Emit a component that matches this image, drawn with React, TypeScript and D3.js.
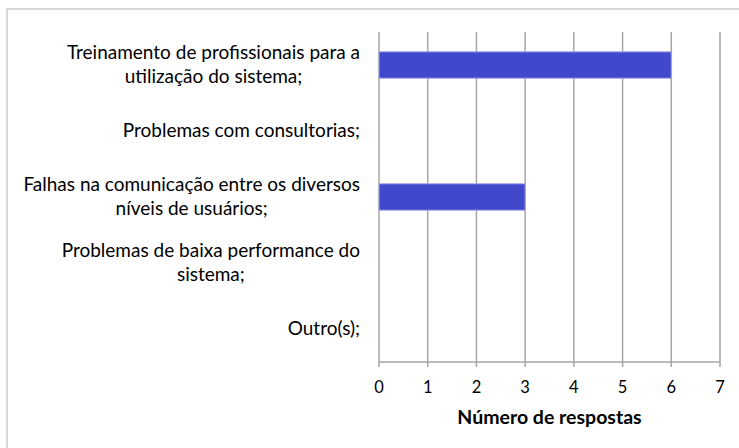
import React from "react";
import * as d3 from "d3";

// categories, top to bottom, already broken into lines like the original
const categories = [
    ["Treinamento de profissionais para a", "utilização do sistema;"],
    ["Problemas com consultorias;"],
    ["Falhas na comunicação entre os diversos", "níveis de usuários;"],
    ["Problemas de baixa performance do", "sistema;"],
    ["Outro(s);"],
];
const respostas = [6, 0, 3, 0, 0];
const xTicks = [0, 1, 2, 3, 4, 5, 6, 7];
const xTitle = "Número de respostas";

const font = "Lato, 'Open Sans', sans-serif";
const labelSize = 19;

// measure text so each label block is right aligned with its lines centred
let ctx: CanvasRenderingContext2D | null = null;
function textWidth(s: string) {
    if (!ctx) ctx = document.createElement("canvas").getContext("2d");
    ctx!.font = `${labelSize}px Lato`;
    return ctx!.measureText(s).width;
}

export default function App() {
    const width = 739;
    const height = 448;
    const left = 379;
    const right = 720;
    const top = 32;
    const bottom = 362;
    const labelRight = 360;

    const x = d3.scaleLinear().domain([0, 7]).range([left, right]);
    const y = d3
        .scaleBand()
        .domain(categories.map((c, i) => String(i)))
        .range([top, bottom])
        .paddingInner(0.6)
        .paddingOuter(0.3);

    const lineH = 24;

    return (
        <svg
            width={width}
            height={height}
            style={{ position: "absolute", left: 0, top: 0, background: "#fff" }}
        >
            {/* outer frame */}
            <rect x={7} y={9} width={760} height={460} fill="#fff" stroke="#d9d9d9" strokeWidth={2} />

            {/* vertical gridlines */}
            {xTicks.map((t) => (
                <line key={"g" + t} x1={x(t)} x2={x(t)} y1={top} y2={bottom + 5} stroke="#a6a6a6" strokeWidth={1.5} />
            ))}
            {/* axis line */}
            <line x1={left} x2={right} y1={bottom} y2={bottom} stroke="#a6a6a6" strokeWidth={1.5} />

            {/* bars */}
            {respostas.map((v, i) =>
                v > 0 ? (
                    <rect
                        key={"b" + i}
                        x={x(0)}
                        y={y(String(i))}
                        width={x(v) - x(0)}
                        height={y.bandwidth()}
                        fill="#4148cc"
                        stroke="#a3a7e8"
                        strokeWidth={1}
                    />
                ) : null
            )}

            {/* category labels */}
            {categories.map((lines, i) => {
                const cy = y(String(i)) + y.bandwidth() / 2;
                const b0 = cy + 6 - ((lines.length - 1) * lineH) / 2;
                const w = d3.max(lines, textWidth) || 0;
                const cx = labelRight - w / 2;
                return (
                    <text key={"c" + i} fontFamily={font} fontSize={labelSize} fill="#000" textAnchor="middle">
                        {lines.map((l, j) => (
                            <tspan key={j} x={cx} y={b0 + j * lineH}>
                                {l}
                            </tspan>
                        ))}
                    </text>
                );
            })}

            {/* tick labels */}
            {xTicks.map((t) => (
                <text key={"t" + t} x={x(t)} y={393} fontFamily={font} fontSize={16.5} textAnchor="middle">
                    {t}
                </text>
            ))}

            <text x={(left + right) / 2} y={424} fontFamily={font} fontSize={19.5} fontWeight="bold" textAnchor="middle">
                {xTitle}
            </text>
        </svg>
    );
}
